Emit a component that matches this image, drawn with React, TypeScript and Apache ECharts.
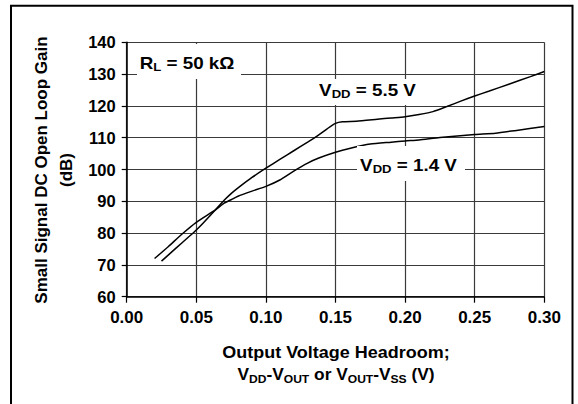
import React, { useEffect, useRef } from "react";
import * as echarts from "echarts";

const xTicks = [0, 0.05, 0.1, 0.15, 0.2, 0.25, 0.3];
const yTicks = [60, 70, 80, 90, 100, 110, 120, 130, 140];

const vdd55X = [0.025, 0.035, 0.045, 0.05, 0.055, 0.0635, 0.07, 0.075, 0.08, 0.09, 0.1, 0.11, 0.12, 0.13, 0.137, 0.144, 0.15, 0.155, 0.165, 0.18, 0.19, 0.2, 0.21, 0.22, 0.23, 0.24, 0.25, 0.26, 0.275, 0.29, 0.3];
const vdd55Y = [71.2, 75.1, 79.0, 81.0, 83.2, 87.2, 90.3, 92.4, 94.2, 97.5, 100.4, 103.2, 105.9, 108.6, 110.6, 112.8, 114.5, 115.0, 115.2, 115.8, 116.2, 116.6, 117.3, 118.2, 119.8, 121.5, 123.1, 124.6, 126.9, 129.2, 130.8];

const vdd14X = [0.02, 0.03, 0.04, 0.05, 0.0635, 0.07, 0.075, 0.08, 0.09, 0.1, 0.11, 0.12, 0.13, 0.138, 0.15, 0.16, 0.175, 0.19, 0.2, 0.21, 0.225, 0.25, 0.265, 0.28, 0.3];
const vdd14Y = [72.0, 75.8, 79.8, 83.4, 87.2, 89.4, 90.5, 91.6, 93.2, 94.7, 96.7, 99.5, 102.0, 103.6, 105.4, 106.6, 108.0, 108.6, 109.0, 109.3, 110.1, 111.0, 111.4, 112.3, 113.5];

const FONT = "'Liberation Sans', Arial, sans-serif";

const makeRich = (size: number) => ({
  n: { fontFamily: FONT, fontWeight: "bold", fontSize: size, lineHeight: 20, verticalAlign: "middle", fill: "#000", color: "#000" },
  s: { fontFamily: FONT, fontWeight: "bold", fontSize: 11.5, lineHeight: 10, verticalAlign: "bottom", fill: "#000", color: "#000" },
});

export default function App() {
  const ref = useRef<HTMLDivElement>(null);
  useEffect(() => {
    if (!ref.current) return;
    const chart = echarts.init(ref.current, undefined, { renderer: "svg" });
    const labelText = (x: number, y: number, text: string, size: number, scaleX = 1, rotation = 0) => ({
      type: "text",
      x,
      y,
      rotation,
      scaleX,
      z: 20,
      style: {
        text,
        rich: makeRich(size),
        font: `bold ${size}px ${FONT}`,
        fill: "#000",
        align: "center",
        verticalAlign: "middle",
      },
    });
    const box = (x: number, y: number, w: number, h: number) => ({
      type: "rect",
      z: 15,
      shape: { x, y, width: w, height: h },
      style: { fill: "#fff" },
    });
    chart.setOption({
      animation: false,
      backgroundColor: "#fff",
      grid: { left: 126.7, right: 33.7, top: 42.3, bottom: 107.3 },
      xAxis: {
        type: "value",
        min: xTicks[0],
        max: xTicks[xTicks.length - 1],
        interval: 0.05,
        axisLine: { show: true, onZero: false, lineStyle: { color: "#000", width: 1.5 } },
        axisTick: { show: true, inside: false, length: 6, lineStyle: { color: "#000", width: 1.2 } },
        axisLabel: {
          margin: 12,
          formatter: (v: number) => v.toFixed(2),
          fontFamily: FONT,
          fontWeight: "bold",
          fontSize: 17,
          color: "#000",
        },
        splitLine: { show: true, lineStyle: { color: "#3a3a3a", width: 1.2 } },
      },
      yAxis: {
        type: "value",
        min: yTicks[0],
        max: yTicks[yTicks.length - 1],
        interval: 10,
        axisLine: { show: true, lineStyle: { color: "#000", width: 1.5 } },
        axisTick: { show: true, inside: false, length: 5, lineStyle: { color: "#000", width: 1.2 } },
        axisLabel: {
          margin: 11,
          fontFamily: FONT,
          fontWeight: "bold",
          fontSize: 16.5,
          color: "#000",
        },
        splitLine: { show: true, lineStyle: { color: "#3a3a3a", width: 1.2 } },
      },
      series: [
        {
          name: "VDD = 5.5 V",
          type: "line",
          data: vdd55X.map((x, i) => [x, vdd55Y[i]]),
          showSymbol: false,
          smooth: 0.2,
          lineStyle: { color: "#000", width: 1.5 },
          z: 5,
        },
        {
          name: "VDD = 1.4 V",
          type: "line",
          data: vdd14X.map((x, i) => [x, vdd14Y[i]]),
          showSymbol: false,
          smooth: 0.2,
          lineStyle: { color: "#000", width: 1.5 },
          z: 5,
        },
      ],
      graphic: [
        {
          type: "rect",
          z: 30,
          shape: { x: 11, y: 5.7, width: 561.5, height: 420 },
          style: { fill: "none", stroke: "#000", lineWidth: 2 },
        },
        box(137, 44, 104, 35),
        labelText(187, 63, "{n|R}{s|L}{n| = 50 kΩ}", 16.5, 1.14),
        box(312, 79, 110, 26),
        labelText(367.5, 90, "{n|V}{s|DD}{n| = 5.5 V}", 16.5, 1.14),
        box(357, 146, 108, 35),
        labelText(408.5, 165, "{n|V}{s|DD}{n| = 1.4 V}", 16.5, 1.14),
        labelText(41, 170, "{n|Small Signal DC Open Loop Gain}", 17, 1, Math.PI / 2),
        labelText(66, 170, "{n|(dB)}", 17, 1, Math.PI / 2),
        labelText(336, 352, "{n|Output Voltage Headroom;}", 16.5, 1.09),
        labelText(336, 375, "{n|V}{s|DD}{n|-V}{s|OUT}{n| or V}{s|OUT}{n|-V}{s|SS}{n| (V)}", 16.5, 1.05),
      ],
    });
    return () => chart.dispose();
  }, []);
  return (
    <div
      ref={ref}
      style={{ position: "fixed", left: 0, top: 0, width: 578, height: 404, background: "#fff" }}
    />
  );
}
